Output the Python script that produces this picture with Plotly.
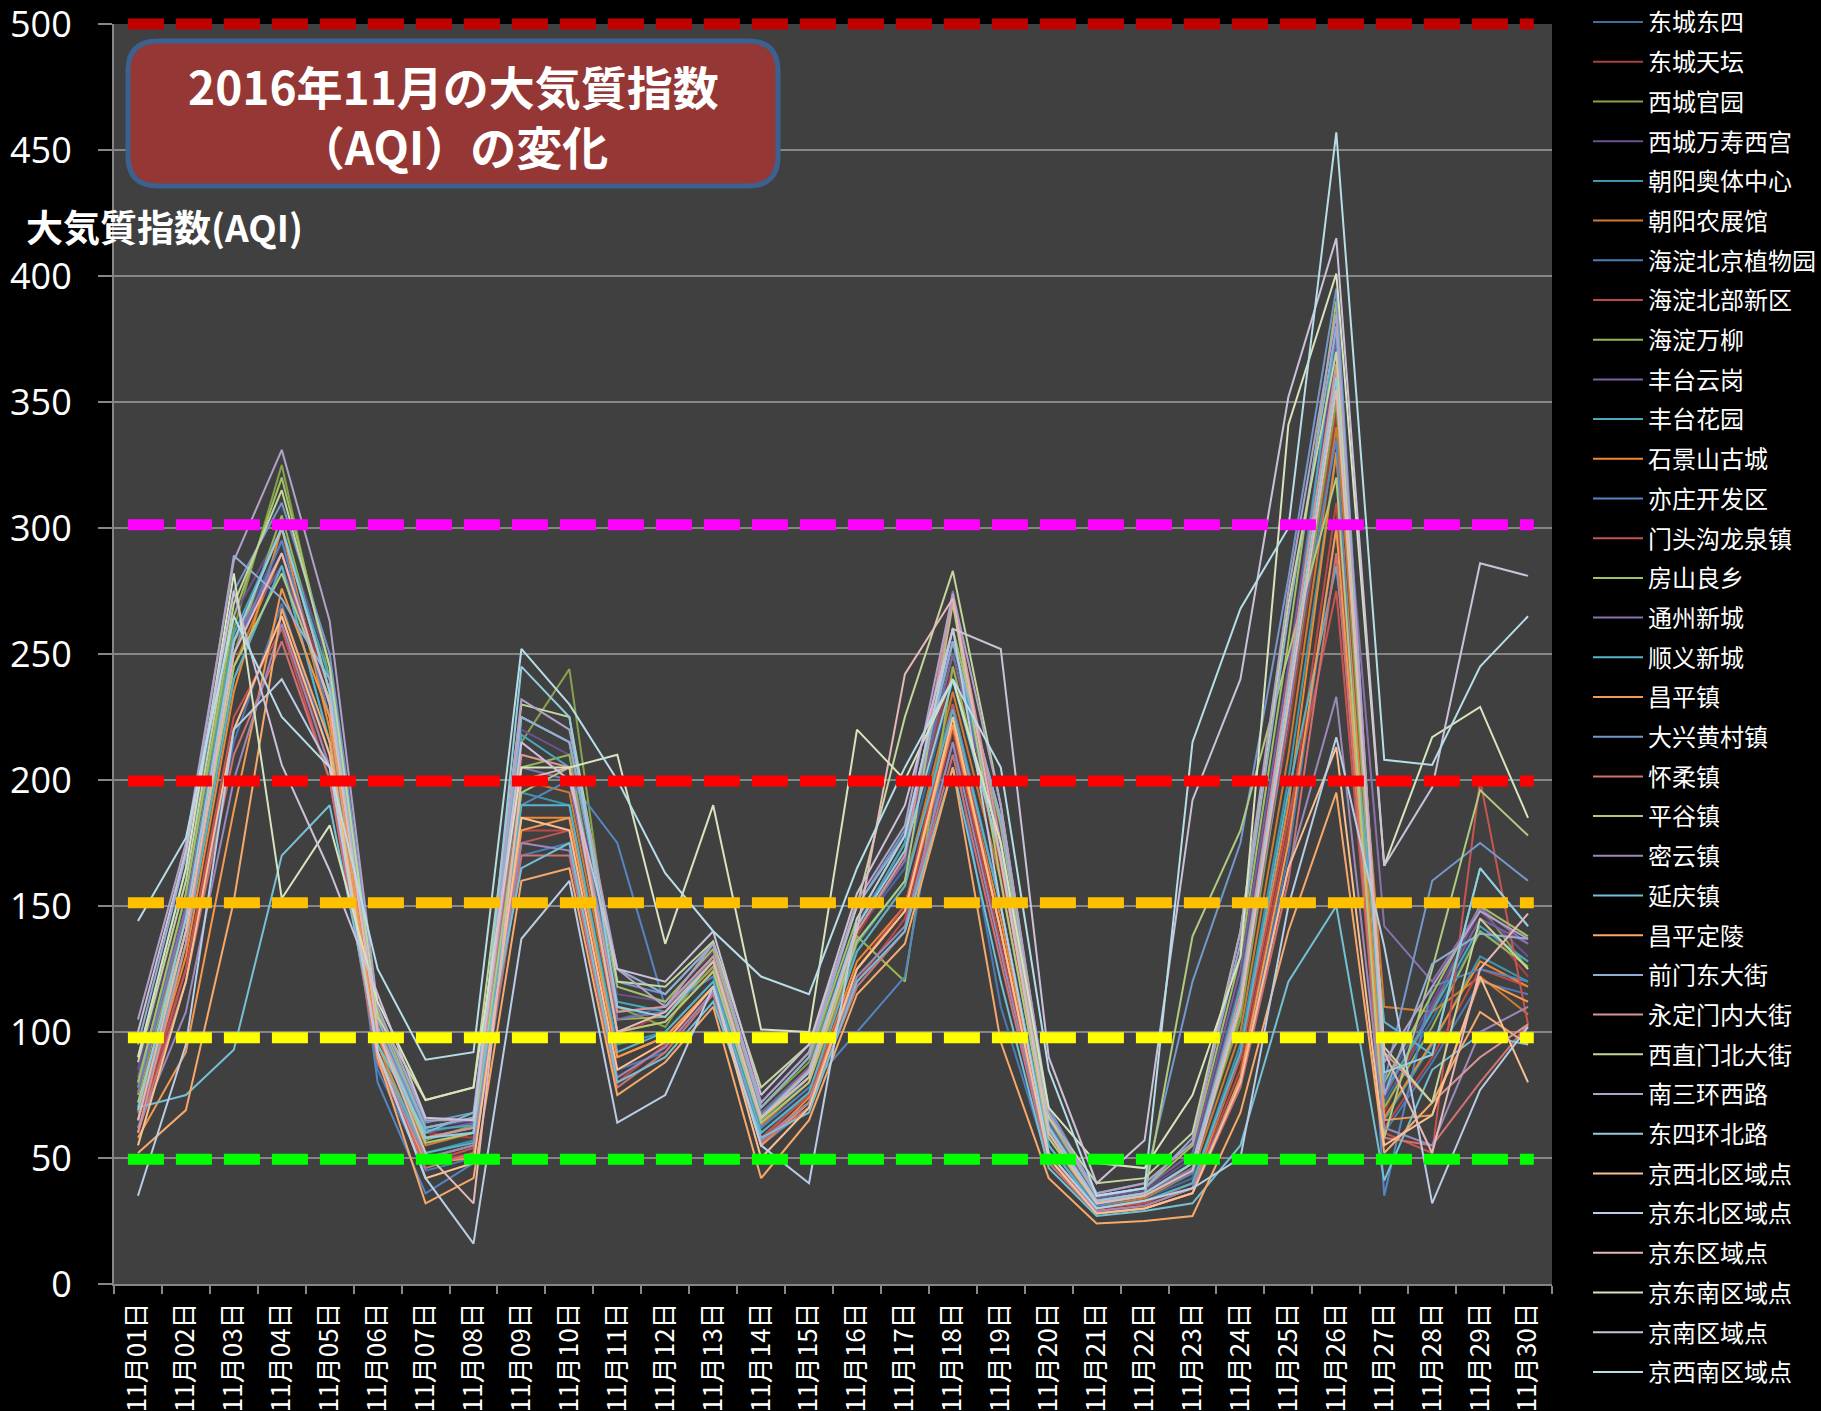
import plotly.graph_objects as go

# ---------------- data ----------------
days = ["11月01日", "11月02日", "11月03日", "11月04日", "11月05日", "11月06日",
        "11月07日", "11月08日", "11月09日", "11月10日", "11月11日", "11月12日",
        "11月13日", "11月14日", "11月15日", "11月16日", "11月17日", "11月18日",
        "11月19日", "11月20日", "11月21日", "11月22日", "11月23日", "11月24日",
        "11月25日", "11月26日", "11月27日", "11月28日", "11月29日", "11月30日"]

stations = ["东城东四", "东城天坛", "西城官园", "西城万寿西宫", "朝阳奥体中心", "朝阳农展馆",
            "海淀北京植物园", "海淀北部新区", "海淀万柳", "丰台云岗", "丰台花园", "石景山古城",
            "亦庄开发区", "门头沟龙泉镇", "房山良乡", "通州新城", "顺义新城", "昌平镇",
            "大兴黄村镇", "怀柔镇", "平谷镇", "密云镇", "延庆镇", "昌平定陵",
            "前门东大街", "永定门内大街", "西直门北大街", "南三环西路", "东四环北路", "京西北区域点",
            "京东北区域点", "京东区域点", "京东南区域点", "京南区域点", "京西南区域点"]

s00 = [78,150,255,295,230,98,55,60,205,200,105,110,128,62,82,140,165,240,170,58,31,34,42,110,230,355,72,105,140,128]
s01 = [72,140,250,290,235,102,60,58,210,205,98,108,125,68,85,138,170,245,165,62,33,36,45,115,220,345,68,110,145,122]
s02 = [80,155,260,325,240,100,57,63,215,244,110,102,130,70,88,142,175,250,175,60,32,35,48,105,225,350,75,108,150,125]
s03 = [85,160,265,300,245,105,62,65,220,210,115,112,132,66,84,145,172,255,180,64,34,37,50,120,240,370,78,112,148,130]
s04 = [70,135,240,285,215,95,52,57,195,190,95,100,120,60,75,135,160,230,150,55,30,33,40,95,200,330,65,95,130,120]
s05 = [68,140,245,290,225,98,55,60,200,195,100,104,124,63,80,132,158,235,160,58,31,34,44,100,210,340,110,108,122,107]
s06 = [62,120,215,270,210,85,45,50,170,175,85,92,115,55,70,118,140,215,110,48,28,30,36,80,170,300,60,88,120,115]
s07 = [60,125,220,265,205,90,48,52,180,180,80,95,118,58,72,120,145,220,135,50,29,31,38,85,180,310,62,90,125,118]
s08 = [75,145,250,305,235,100,58,62,205,210,105,106,126,65,82,138,120,245,168,60,32,35,46,108,225,365,70,102,140,126]
s09 = [82,150,255,285,230,104,60,64,215,200,108,110,128,68,86,140,170,250,172,65,34,38,52,125,245,375,74,110,145,135]
s10 = [78,148,258,300,240,102,61,63,218,205,112,108,130,67,85,142,175,255,175,63,33,36,48,118,235,380,76,108,142,128]
s11 = [65,130,235,300,220,95,50,55,185,185,90,98,118,55,74,128,150,225,145,52,29,31,38,90,190,330,66,96,128,118]
s12 = [70,140,250,295,225,80,36,48,190,200,175,110,122,62,78,100,122,230,150,55,31,35,44,112,235,335,35,118,125,120]
s13 = [65,125,225,260,200,88,48,54,175,180,85,96,118,58,75,125,150,230,140,52,30,32,40,90,185,275,60,52,200,103]
s14 = [80,155,265,320,245,108,62,66,225,215,118,112,133,70,90,145,178,260,182,66,35,38,55,130,255,390,80,115,150,138]
s15 = [76,148,255,290,230,100,58,62,205,200,105,108,128,66,84,140,168,275,168,60,33,36,46,110,225,360,142,120,149,135]
s16 = [65,135,240,285,215,92,52,56,190,190,92,100,120,60,76,132,158,228,150,55,30,33,40,92,195,285,104,91,165,142]
s17 = [58,92,188,276,225,92,48,50,180,185,90,98,118,55,72,125,148,222,140,50,28,30,36,82,175,300,65,67,121,112]
s18 = [90,165,275,310,250,110,64,68,225,215,120,115,135,72,92,150,180,255,185,70,36,40,120,175,280,395,80,160,175,160]
s19 = [60,120,210,255,200,88,46,52,170,170,78,92,115,56,70,118,140,210,128,48,28,30,36,78,160,290,58,55,80,103]
s20 = [72,140,245,282,232,100,56,60,195,205,100,104,124,64,80,136,160,270,160,58,32,35,138,180,250,320,58,125,196,178]
s21 = [62,108,200,262,205,90,50,55,175,172,82,94,116,57,72,122,142,215,132,50,29,31,38,80,165,233,62,55,100,110]
s22 = [70,75,93,170,190,95,60,68,165,175,80,90,112,58,68,120,140,205,120,46,27,29,32,55,120,150,41,85,99,95]
s23 = [52,69,152,268,215,90,32,42,160,165,75,88,110,42,65,115,135,205,96,42,24,25,27,68,140,195,52,72,108,95]
s24 = [95,170,289,272,240,105,62,66,225,215,125,115,135,70,90,150,178,255,185,68,35,38,58,135,265,380,75,127,139,137]
s25 = [60,135,255,300,235,102,58,62,210,205,108,110,130,66,85,140,170,272,175,62,33,36,48,115,240,365,92,72,90,103]
s26 = [88,160,270,315,245,106,73,78,230,225,120,118,136,78,95,150,225,283,190,66,40,42,60,140,270,370,94,72,145,125]
s27 = [105,175,287,331,263,110,65,65,232,220,125,110,135,72,92,152,182,274,190,68,36,40,56,140,275,385,88,118,148,137]
s28 = [69,145,255,300,235,100,58,60,245,225,110,106,128,66,84,142,172,240,170,62,33,36,48,112,235,360,84,91,165,142]
s29 = [55,120,220,265,210,92,42,48,185,180,85,96,118,50,70,125,148,225,140,50,28,30,36,80,165,213,55,67,122,80]
s30 = [35,95,220,240,205,92,42,16,137,160,64,75,118,55,40,145,178,260,150,52,30,33,38,50,150,217,134,32,77,102]
s31 = [65,140,250,290,230,100,52,32,200,205,100,108,128,66,82,140,242,272,168,60,32,35,45,110,230,355,92,52,125,147]
s32 = [90,165,282,153,182,112,73,78,205,205,210,135,190,101,100,220,200,240,175,70,48,46,75,130,341,401,166,217,229,185]
s33 = [100,172,275,206,164,115,66,65,215,200,125,120,140,75,95,155,190,260,252,90,40,57,192,240,352,415,166,197,286,281]
s34 = [144,177,265,225,205,125,89,92,252,230,200,163,140,122,115,165,205,240,205,85,35,38,215,268,300,457,208,206,245,265]

series = [s00, s01, s02, s03, s04, s05, s06, s07, s08, s09, s10, s11, s12, s13, s14, s15, s16, s17,
          s18, s19, s20, s21, s22, s23, s24, s25, s26, s27, s28, s29, s30, s31, s32, s33, s34]

colors = ["#416CA0", "#A6423F", "#86A24A", "#6A5290", "#3E97AD", "#D07A30",
          "#4A7CB8", "#BB4A47", "#96B655", "#7C60A0", "#47A8C2", "#F08A30",
          "#5486C2", "#C65552", "#A2C065", "#8B71AC", "#58B3CC", "#F5994E",
          "#7398CC", "#D07270", "#B0CA80", "#9C89BA", "#74C0D4", "#F8A96A",
          "#93AED5", "#D99694", "#C3D69B", "#B3A2C7", "#93CDDD", "#FAC090",
          "#B9CDE5", "#E6B9B8", "#D7E4BD", "#CCC1DA", "#B7DEE8"]

# reference AQI level lines
levels = [500, 301.3, 199.6, 151.3, 97.7, 49.5]
level_colors = ["#C00000", "#FF00FF", "#FF0000", "#FFC000", "#FFFF00", "#00FF00"]
y_range = [0, 500]

title_text = "2016年11月の大気質指数<br>（AQI）の変化"
ytitle_text = "大気質指数(AQI)"

# ---------------- layout geometry (pixels) ----------------
W, H = 1821, 1411
L, R, T, B = 114, 1552, 24, 1284
pw, ph = R - L, B - T


def px2x(px):
    return (px - L) / pw


def py2y(py):
    return (B - py) / ph


fig = go.Figure()
for name, vals, col in zip(stations, series, colors):
    fig.add_trace(go.Scatter(x=days, y=vals, name=name, mode="lines",
                             legendgroup=name,
                             line=dict(color=col, width=2)))

# dashed level lines (only clipped horizontally so the 500 line is not cut)
for v, c in zip(levels, level_colors):
    frac = (v - y_range[0]) / (y_range[1] - y_range[0])
    fig.add_shape(type="line", xref="x", yref="y domain", x0=-0.21, x1=29.12, y0=frac, y1=frac,
                  line=dict(color=c, width=11, dash="36px,12px"), layer="above")

# title box (rounded rectangle)
x0, x1 = px2x(128), px2x(778)
yt, yb = py2y(41), py2y(186)
rx, ry = 30 / pw, 30 / ph
path = (f"M{x0+rx},{yt} L{x1-rx},{yt} Q{x1},{yt} {x1},{yt-ry} L{x1},{yb+ry} "
        f"Q{x1},{yb} {x1-rx},{yb} L{x0+rx},{yb} Q{x0},{yb} {x0},{yb+ry} "
        f"L{x0},{yt-ry} Q{x0},{yt} {x0+rx},{yt} Z")
fig.add_shape(type="path", xref="paper", yref="paper", path=path,
              fillcolor="#953735", line=dict(color="#3B6190", width=5), layer="above")

fig.add_annotation(x=px2x(453), y=py2y(115), xref="paper", yref="paper",
                   text=title_text, showarrow=False, xanchor="center", yanchor="middle",
                   font=dict(size=46, color="white", family="Noto Sans CJK JP", weight="bold"))

fig.add_annotation(x=px2x(24), y=py2y(226), xref="paper", yref="paper",
                   text=ytitle_text, showarrow=False, xanchor="left", yanchor="middle",
                   font=dict(size=37, color="white", family="Noto Sans CJK JP", weight="bold"))

grid = "#868686"
fig.update_layout(
    width=W, height=H,
    margin=dict(l=L, r=W - R, t=T, b=H - B, pad=0, autoexpand=False),
    paper_bgcolor="black", plot_bgcolor="#404040",
    showlegend=True,
    legend=dict(x=px2x(1588), xanchor="left", y=py2y(0), yanchor="top",
                font=dict(size=24, color="white", family="Noto Sans CJK SC"),
                bgcolor="rgba(0,0,0,0)", tracegroupgap=5.5, itemwidth=50,
                maxheight=1411),
    xaxis=dict(type="category", range=[-0.5, 29.5], tickson="boundaries",
               ticks="outside", ticklen=8, tickwidth=2, tickcolor=grid,
               showline=True, linecolor=grid, linewidth=2, showgrid=False,
               tickangle=-90, ticklabelstandoff=6, ticklabeloverflow="allow",
               tickfont=dict(size=26, color="white", family="Noto Sans CJK JP"),
               automargin=False),
    yaxis=dict(range=y_range, dtick=50, tick0=0, showgrid=True, gridcolor=grid,
               gridwidth=1.5, showline=True, linecolor=grid, linewidth=2,
               ticks="outside", ticklen=14, tickwidth=2, tickcolor=grid,
               zeroline=False, ticklabelstandoff=19, ticklabeloverflow="allow",
               tickfont=dict(size=36, color="white", family="Open Sans"),
               automargin=False),
)

fig.write_html("out.html", config={"displayModeBar": False},
               post_script="document.body.style.margin='0';document.body.style.background='black';")
